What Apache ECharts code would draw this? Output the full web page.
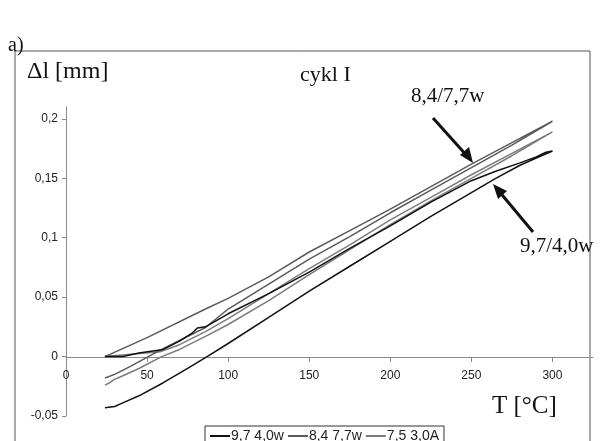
<!DOCTYPE html>
<html><head><meta charset="utf-8">
<script src="https://cdn.jsdelivr.net/npm/echarts@6/dist/echarts.min.js"></script>
<style>html,body{margin:0;padding:0;background:#fff}#c{width:604px;height:441px}</style>
</head><body><div id="c"></div>
<script>
// Tick labels
const xTicks = [0, 50, 100, 150, 200, 250, 300];
const yTicks = [-0.05, 0, 0.05, 0.1, 0.15, 0.2];
const seriesNames = ['9,7 4,0w', '8,4 7,7w', '7,5 3,0A'];

// 9,7 4,0w  heating / cooling
const blackHeatT = [24,35,45,60,70,78,81,86,100,125,150,175,200,225,250,265,280,290,296,300];
const blackHeatV = [0.000,0.000,0.003,0.006,0.013,0.020,0.024,0.025,0.036,0.053,0.071,0.091,0.110,0.130,0.148,0.156,0.163,0.168,0.172,0.173];
const blackCoolT = [300,290,280,265,250,225,200,175,150,125,100,87,75,60,45,35,30,24];
const blackCoolV = [0.173,0.167,0.161,0.150,0.138,0.118,0.097,0.076,0.055,0.033,0.011,0.000,-0.010,-0.022,-0.033,-0.039,-0.042,-0.043];

// 8,4 7,7w
const darkHeatT = [24,50,86,100,125,150,175,200,225,250,275,300];
const darkHeatV = [0.000,0.016,0.040,0.049,0.067,0.088,0.106,0.124,0.143,0.162,0.180,0.198];
const darkCoolT = [300,275,250,225,200,175,150,125,100,86,59,40,30,24];
const darkCoolV = [0.198,0.178,0.159,0.140,0.121,0.101,0.082,0.061,0.040,0.0245,0.006,-0.008,-0.015,-0.018];

// 7,5 3,0A
const greyHeatT = [24,40,58,70,86,100,125,150,175,200,225,250,275,300];
const greyHeatV = [0.000,0.002,0.004,0.010,0.021,0.032,0.053,0.074,0.094,0.115,0.134,0.153,0.171,0.189];
const greyCoolT = [300,275,250,225,200,175,150,125,100,86,70,59,45,32,30,27,24];
const greyCoolV = [0.189,0.169,0.150,0.131,0.111,0.090,0.069,0.047,0.027,0.017,0.006,0.000,-0.010,-0.018,-0.019,-0.022,-0.024];

function loop(hT, hV, cT, cV) {
  const d = [];
  hT.forEach((t, i) => d.push([t, hV[i]]));
  cT.forEach((t, i) => d.push([t, cV[i]]));
  return d;
}
const colors = ['#111111', '#5a5a5a', '#7c7c7c'];
const loops = [
  loop(blackHeatT, blackHeatV, blackCoolT, blackCoolV),
  loop(darkHeatT, darkHeatV, darkCoolT, darkCoolV),
  loop(greyHeatT, greyHeatV, greyCoolT, greyCoolV)
];

const serif = '"Liberation Serif", "DejaVu Serif", serif';
const sans = '"Liberation Sans", Arial, sans-serif';
const fmt = v => String(Math.round(v * 1000) / 1000).replace('.', ',');

const chart = echarts.init(document.getElementById('c'), null, {renderer: 'canvas'});
chart.setOption({
  animation: false,
  backgroundColor: '#fff',
  grid: {left: 66, right: 11, top: 107, bottom: 25},
  xAxis: {
    type: 'value', min: 0, max: 325, position: 'bottom', offset: -59,
    splitLine: {show: false},
    axisLine: {onZero: false, lineStyle: {color: '#8a8a8a', width: 1}},
    axisTick: {show: true, length: 5, customValues: xTicks, lineStyle: {color: '#8a8a8a'}},
    axisLabel: {customValues: xTicks, margin: 13, fontFamily: sans, fontSize: 12, color: '#222'}
  },
  yAxis: {
    type: 'value', min: -0.05, max: 0.21,
    splitLine: {show: false},
    axisLine: {show: true, lineStyle: {color: '#8a8a8a', width: 1}},
    axisTick: {show: true, length: 4, customValues: yTicks, lineStyle: {color: '#8a8a8a'}},
    axisLabel: {customValues: yTicks, margin: 8, fontFamily: sans, fontSize: 12, color: '#222', formatter: fmt}
  },
  legend: {
    data: seriesNames,
    left: 205, top: 426,
    orient: 'horizontal',
    icon: 'rect', itemWidth: 20, itemHeight: 2, itemGap: 4,
    borderColor: '#333', borderWidth: 1, padding: [3, 5, 8, 5],
    textStyle: {fontFamily: sans, fontSize: 14, color: '#222', padding: [0, 0, 0, -4]},
    backgroundColor: '#fff'
  },
  series: seriesNames.map((n, i) => ({
    name: n, type: 'line', data: loops[i], showSymbol: false, symbol: 'none',
    lineStyle: {color: colors[i], width: 1.5}, itemStyle: {color: colors[i]},
    z: 3 - i
  })),
  graphic: [
    {type: 'rect', shape: {x: 15, y: 51, width: 575, height: 400}, style: {fill: 'none', stroke: '#555', lineWidth: 1}, z: -1},
    {type: 'text', left: 8, top: 36, style: {text: 'a)', font: '20px ' + serif, fill: '#111'}},
    {type: 'text', left: 27, top: 60, style: {text: 'Δl [mm]', font: '24px ' + serif, fill: '#111'}},
    {type: 'text', left: 300, top: 64, style: {text: 'cykl I', font: '22px ' + serif, fill: '#111'}},
    {type: 'text', left: 411, top: 86, style: {text: '8,4/7,7w', font: '21px ' + serif, fill: '#111'}},
    {type: 'text', left: 520, top: 236, style: {text: '9,7/4,0w', font: '21px ' + serif, fill: '#111'}},
    {type: 'text', left: 492, top: 394, style: {text: 'T [°C]', font: '25px ' + serif, fill: '#111'}},
    {type: 'line', shape: {x1: 433, y1: 118, x2: 468, y2: 157}, style: {stroke: '#111', lineWidth: 3}},
    {type: 'polygon', shape: {points: [[473, 163], [460, 155], [469, 147]]}, style: {fill: '#111'}},
    {type: 'line', shape: {x1: 533, y1: 232, x2: 498, y2: 190}, style: {stroke: '#111', lineWidth: 3}},
    {type: 'polygon', shape: {points: [[493, 184], [507, 191], [498, 199]]}, style: {fill: '#111'}}
  ]
});
</script>
</body></html>
